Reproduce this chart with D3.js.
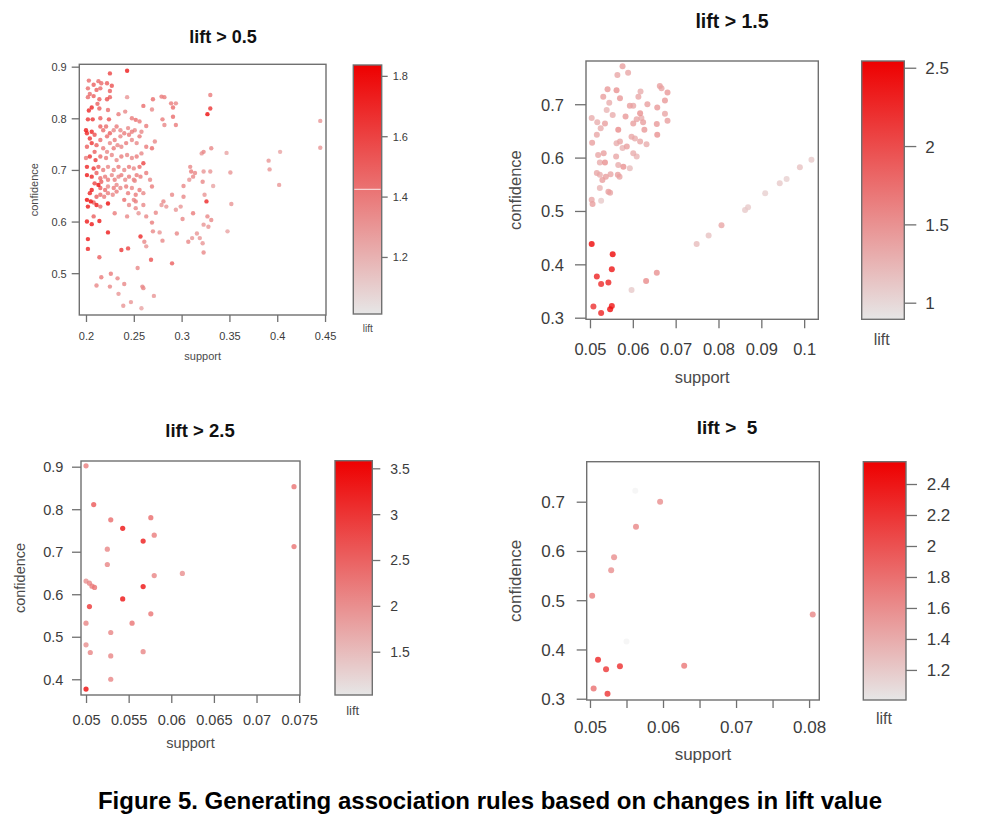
<!DOCTYPE html>
<html><head><meta charset="utf-8">
<script src="https://cdn.jsdelivr.net/npm/d3@7"></script>
<style>
body{margin:0;background:#fff}
svg{display:block}
text{font-family:"Liberation Sans",Arial,sans-serif}
</style>
</head><body>
<svg id="chart" width="982" height="828"></svg>
<script>
// ---------- data ----------
const titles = ["lift > 0.5", "lift > 1.5", "lift > 2.5", "lift >  5"];
const caption = "Figure 5. Generating association rules based on changes in lift value";
const xLabel = "support", yLabel = "confidence", legendLabel = "lift";

// [support, confidence, lift]
const p1Rules = [
[0.225,0.887,1.6],[0.243,0.892,1.75],[0.203,0.873,1.45],[0.213,0.872,1.45],[0.216,0.868,1.45],[0.208,0.865,1.5],
[0.202,0.858,1.45],[0.211,0.855,1.5],[0.215,0.858,1.45],[0.222,0.868,1.5],[0.227,0.863,1.55],[0.225,0.853,1.5],
[0.204,0.847,1.45],[0.208,0.843,1.5],[0.202,0.841,1.45],[0.214,0.837,1.5],[0.222,0.837,1.55],[0.225,0.841,1.5],
[0.243,0.841,1.3],[0.212,0.828,1.5],[0.206,0.821,1.7],[0.203,0.815,1.7],[0.214,0.819,1.5],[0.223,0.816,1.45],
[0.202,0.798,1.65],[0.207,0.798,1.65],[0.215,0.800,1.5],[0.224,0.798,1.55],[0.234,0.808,1.4],[0.241,0.813,1.35],
[0.248,0.800,1.4],[0.252,0.797,1.45],[0.256,0.794,1.4],[0.260,0.824,1.45],[0.269,0.817,1.35],[0.270,0.837,1.45],
[0.279,0.842,1.4],[0.282,0.841,1.4],[0.289,0.829,1.4],[0.291,0.821,1.45],[0.294,0.829,1.35],[0.291,0.803,1.45],
[0.294,0.787,1.4],[0.280,0.798,1.4],[0.282,0.787,1.35],[0.263,0.785,1.4],[0.330,0.845,1.4],[0.330,0.819,1.65],
[0.327,0.808,1.8],[0.445,0.795,1.3],[0.445,0.743,1.3],
[0.200,0.777,1.75],[0.201,0.771,1.7],[0.206,0.774,1.7],[0.204,0.761,1.65],[0.209,0.768,1.55],[0.215,0.784,1.5],
[0.218,0.777,1.45],[0.221,0.784,1.45],[0.225,0.771,1.5],[0.222,0.765,1.45],[0.229,0.777,1.35],[0.232,0.784,1.4],
[0.236,0.777,1.35],[0.240,0.771,1.4],[0.244,0.781,1.35],[0.248,0.774,1.4],[0.251,0.777,1.35],[0.245,0.768,1.4],
[0.236,0.765,1.35],[0.230,0.758,1.4],[0.225,0.752,1.35],[0.215,0.758,1.45],[0.211,0.748,1.5],[0.206,0.752,1.65],
[0.201,0.745,1.5],[0.209,0.735,1.5],[0.218,0.742,1.4],[0.222,0.735,1.35],[0.229,0.742,1.4],[0.233,0.748,1.35],
[0.237,0.745,1.35],[0.242,0.752,1.4],[0.248,0.758,1.35],[0.253,0.752,1.35],[0.256,0.765,1.4],[0.258,0.774,1.35],
[0.263,0.745,1.4],[0.269,0.742,1.45],[0.272,0.755,1.35],[0.258,0.732,1.35],[0.253,0.726,1.4],[0.248,0.723,1.35],
[0.243,0.729,1.35],[0.237,0.726,1.4],[0.232,0.719,1.35],[0.227,0.729,1.35],[0.221,0.723,1.4],[0.215,0.726,1.45],
[0.210,0.719,1.65],[0.204,0.726,1.65],[0.200,0.723,1.4],[0.201,0.706,1.7],[0.208,0.703,1.65],[0.213,0.706,1.5],
[0.218,0.700,1.4],[0.223,0.706,1.35],[0.229,0.700,1.35],[0.234,0.706,1.4],[0.240,0.700,1.35],[0.245,0.706,1.4],
[0.250,0.703,1.35],[0.256,0.706,1.45],[0.260,0.713,1.6],[0.263,0.694,1.4],
[0.201,0.690,1.75],[0.206,0.687,1.7],[0.211,0.694,1.5],[0.215,0.684,1.45],[0.209,0.674,1.6],[0.213,0.671,1.8],
[0.216,0.677,1.5],[0.220,0.687,1.4],[0.223,0.681,1.4],[0.227,0.690,1.35],[0.230,0.681,1.4],[0.234,0.687,1.35],
[0.237,0.690,1.4],[0.241,0.681,1.35],[0.245,0.687,1.4],[0.250,0.681,1.35],[0.253,0.690,1.4],[0.232,0.671,1.35],
[0.229,0.665,1.4],[0.223,0.668,1.35],[0.220,0.661,1.45],[0.215,0.665,1.5],[0.206,0.661,1.75],[0.204,0.655,1.7],
[0.201,0.642,1.8],[0.205,0.639,1.8],[0.211,0.648,1.5],[0.215,0.652,1.45],[0.219,0.648,1.4],[0.223,0.655,1.4],
[0.228,0.652,1.35],[0.232,0.658,1.4],[0.236,0.665,1.35],[0.223,0.635,1.8],[0.211,0.632,1.75],[0.202,0.629,1.75],
[0.208,0.637,1.5],[0.215,0.629,1.45],[0.230,0.616,1.4],[0.240,0.642,1.45],[0.244,0.655,1.4],[0.250,0.642,1.35],
[0.242,0.668,1.4],[0.248,0.665,1.35],[0.256,0.661,1.4],[0.260,0.655,1.35],[0.252,0.652,1.4],[0.251,0.679,1.35],
[0.257,0.687,1.4],[0.267,0.681,1.35],[0.269,0.668,1.4],[0.245,0.632,1.35],[0.252,0.639,1.4],[0.260,0.632,1.35],
[0.201,0.600,1.75],[0.206,0.595,1.75],[0.214,0.601,1.75],[0.208,0.610,1.5],[0.202,0.566,1.75],[0.202,0.547,1.7],
[0.223,0.579,1.75],[0.214,0.531,1.5],[0.216,0.492,1.4],[0.211,0.476,1.35],[0.226,0.499,1.4],[0.225,0.474,1.35],
[0.233,0.490,1.35],[0.240,0.479,1.35],[0.234,0.460,1.3],[0.239,0.437,1.3],[0.247,0.444,1.3],[0.258,0.432,1.25],
[0.259,0.474,1.35],[0.260,0.471,1.35],[0.254,0.510,1.35],[0.237,0.545,1.65],[0.244,0.548,1.6],[0.257,0.571,1.7],
[0.261,0.561,1.35],[0.263,0.552,1.3],[0.268,0.526,1.55],[0.271,0.456,1.3],[0.280,0.563,1.35],[0.290,0.519,1.5],
[0.263,0.610,1.35],[0.269,0.598,1.4],[0.273,0.617,1.35],[0.279,0.632,1.3],[0.281,0.639,1.35],[0.284,0.629,1.3],
[0.290,0.652,1.35],[0.294,0.623,1.3],[0.299,0.629,1.3],[0.302,0.648,1.35],[0.301,0.605,1.35],[0.295,0.577,1.35],
[0.307,0.561,1.35],[0.312,0.616,1.4],[0.316,0.577,1.3],[0.319,0.568,1.3],[0.323,0.594,1.3],[0.323,0.540,1.35],
[0.327,0.610,1.35],[0.328,0.590,1.3],[0.326,0.639,1.7],[0.331,0.603,1.35],[0.311,0.568,1.3],[0.322,0.558,1.3],
[0.348,0.581,1.25],[0.352,0.634,1.3],[0.309,0.706,1.35],[0.310,0.697,1.4],[0.312,0.687,1.35],[0.308,0.681,1.3],
[0.314,0.694,1.35],[0.302,0.669,1.35],[0.323,0.697,1.3],[0.322,0.677,1.35],[0.321,0.732,1.3],[0.323,0.735,1.35],
[0.331,0.742,1.35],[0.330,0.697,1.3],[0.333,0.669,1.25],[0.347,0.733,1.25],[0.351,0.695,1.3],[0.391,0.718,1.3],
[0.392,0.701,1.3],[0.403,0.735,1.25],[0.402,0.671,1.3],[0.324,0.652,1.3],[0.270,0.581,1.35],[0.277,0.579,1.3],
[0.243,0.610,1.35],[0.252,0.626,1.35],[0.255,0.616,1.3]
];
const p2Rules = [
[0.0576,0.771,1.4],[0.0589,0.759,1.35],[0.0564,0.755,1.35],[0.0541,0.728,1.45],[0.0562,0.726,1.5],[0.0531,0.714,1.4],
[0.0545,0.703,1.3],[0.0570,0.711,1.45],[0.0593,0.697,1.4],[0.0601,0.697,1.35],[0.0613,0.714,1.35],[0.0618,0.724,1.3],
[0.0634,0.700,1.4],[0.0663,0.734,1.4],[0.0667,0.730,1.35],[0.0681,0.722,1.45],[0.0675,0.707,1.45],[0.0657,0.694,1.45],
[0.0675,0.682,1.35],[0.0681,0.669,1.4],[0.0504,0.674,1.3],[0.0517,0.666,1.3],[0.0535,0.664,1.4],[0.0539,0.689,1.25],
[0.0553,0.680,1.3],[0.0566,0.652,1.55],[0.0583,0.677,1.45],[0.0601,0.664,1.4],[0.0609,0.672,1.35],[0.0617,0.683,1.5],
[0.0620,0.674,1.3],[0.0624,0.666,1.4],[0.0627,0.652,1.45],[0.0656,0.663,1.45],[0.0657,0.643,1.5],[0.0505,0.628,1.4],
[0.0516,0.643,1.35],[0.0525,0.655,1.3],[0.0519,0.605,1.35],[0.0523,0.591,1.3],[0.0535,0.591,1.5],[0.0532,0.608,1.4],
[0.0562,0.627,1.3],[0.0570,0.630,1.35],[0.0576,0.618,1.25],[0.0586,0.621,1.4],[0.0597,0.639,1.35],[0.0605,0.636,1.3],
[0.0617,0.630,1.35],[0.0632,0.625,1.3],[0.0601,0.608,1.3],[0.0609,0.602,1.25],[0.0561,0.602,1.35],[0.0566,0.586,1.3],
[0.0578,0.583,1.5],[0.0593,0.580,1.2],[0.0565,0.568,1.4],[0.0569,0.564,1.35],[0.0516,0.571,1.35],[0.0523,0.568,1.3],
[0.0529,0.558,1.4],[0.0537,0.564,1.4],[0.0548,0.569,1.35],[0.0543,0.536,1.4],[0.0547,0.534,1.35],[0.0523,0.543,1.25],
[0.0504,0.521,1.35],[0.0506,0.513,1.4],[0.0526,0.519,1.1],
[0.0597,0.352,1.1],[0.0631,0.369,1.55],[0.0656,0.384,1.5],[0.0749,0.438,1.2],[0.0777,0.454,1.15],[0.0807,0.473,1.35],
[0.0862,0.502,1.1],[0.0869,0.507,1.1],[0.0909,0.533,1.05],[0.0943,0.552,1.1],[0.0959,0.560,1.05],[0.0990,0.582,1.15],
[0.1017,0.596,1.1],
[0.0504,0.438,2.5],[0.0553,0.419,2.5],[0.0551,0.391,2.4],[0.0516,0.377,2.3],[0.0526,0.363,2.25],[0.0543,0.366,2.3],
[0.0508,0.321,2.2],[0.0526,0.309,2.3],[0.0551,0.322,2.4],[0.0547,0.316,2.45]
];
const p3Rules = [
[0.0500,0.902,2.2],[0.0509,0.811,2.6],[0.0529,0.775,2.4],[0.0543,0.755,3.4],[0.0576,0.780,2.4],[0.0580,0.739,2.2],
[0.0567,0.725,3.3],[0.0525,0.706,2.1],[0.0525,0.670,2.1],[0.0580,0.644,2.1],[0.0613,0.649,2.0],[0.0744,0.853,2.3],
[0.0744,0.712,2.3],[0.0500,0.631,2.0],[0.0504,0.626,2.1],[0.0507,0.619,2.2],[0.0510,0.616,2.3],[0.0567,0.618,3.4],
[0.0543,0.589,3.4],[0.0504,0.571,3.0],[0.0576,0.554,2.3],[0.0554,0.532,2.3],[0.0500,0.532,2.1],[0.0529,0.510,2.1],
[0.0500,0.481,2.0],[0.0505,0.463,2.1],[0.0567,0.465,2.1],[0.0529,0.455,2.1],[0.0529,0.400,2.1],[0.0500,0.377,3.5]
];
const p4Rules = [
[0.0596,0.700,1.6],[0.0563,0.649,1.65],[0.0533,0.587,1.6],[0.0529,0.561,1.6],[0.0503,0.509,1.7],[0.0805,0.471,1.65],
[0.0629,0.367,1.75],[0.0511,0.379,2.3],[0.0522,0.360,2.2],[0.0541,0.366,2.25],[0.0505,0.321,1.8],[0.0524,0.310,2.2],
[0.0562,0.722,1.01],[0.0550,0.416,1.01]
];

const p1XTicks = [0.2,0.25,0.3,0.35,0.4,0.45];
const p1YTicks = [0.5,0.6,0.7,0.8,0.9];
const p1LiftTicks = [1.2,1.4,1.6,1.8];
const p2XTicks = [0.05,0.06,0.07,0.08,0.09,0.1];
const p2YTicks = [0.3,0.4,0.5,0.6,0.7];
const p2LiftTicks = [1,1.5,2,2.5];
const p3XTicks = [0.05,0.055,0.06,0.065,0.07,0.075];
const p3YTicks = [0.4,0.5,0.6,0.7,0.8,0.9];
const p3LiftTicks = [1.5,2,2.5,3,3.5];
const p4XTicks = [0.05,0.055,0.06,0.065,0.07,0.075,0.08];
const p4XLabelled = [0.05,0.06,0.07,0.08];
const p4YTicks = [0.3,0.4,0.5,0.6,0.7];
const p4LiftTicks = [1.2,1.4,1.6,1.8,2,2.2,2.4];

// ---------- layout ----------
const panels = [
 {rules:p1Rules, xt:p1XTicks, xl:p1XTicks, yt:p1YTicks, lt:p1LiftTicks, title:titles[0],
  box:[79.3,64.3,326,315], xd:[0.193,0.451], yd:[0.419,0.9046], leg:[353.3,65,381.7,314], ld:[1.011,1.836],
  r:2.2, fTick:11, fLab:11, fTitle:18, fLift:10, fLeg:11,
  xTickLen:7, xTickBase:25, yTickLen:7.6, yTickRight:12.6, legTickLen:6, legLabLeft:11,
  title_xy:[223,43.3], xlab_y:360, ylab_x:38, lift_xy:[367.7,331.7], glint:189.3},
 {rules:p2Rules, xt:p2XTicks, xl:p2XTicks, yt:p2YTicks, lt:p2LiftTicks, title:titles[1],
  box:[586,61,818.3,319.3], xd:[0.04907,0.1033], yd:[0.297,0.781], leg:[861.7,61,904.3,319.3], ld:[0.894,2.543],
  r:3.0, fTick:16.5, fLab:16.5, fTitle:19.5, fLift:16, fLeg:17,
  xTickLen:9, xTickBase:36, yTickLen:11, yTickRight:22, legTickLen:12, legLabLeft:21,
  title_xy:[732,28.3], xlab_y:383, ylab_x:521, lift_xy:[881.7,345]},
 {rules:p3Rules, xt:p3XTicks, xl:p3XTicks, yt:p3YTicks, lt:p3LiftTicks, title:titles[2],
  box:[81,461,300,695], xd:[0.04941,0.0751], yd:[0.363,0.9134], leg:[335,460.7,372.3,695], ld:[1.028,3.583],
  r:2.6, fTick:14.5, fLab:14.5, fTitle:18.5, fLift:13, fLeg:14,
  xTickLen:8, xTickBase:30, yTickLen:9, yTickRight:17.7, legTickLen:8, legLabLeft:18,
  title_xy:[200,437.3], xlab_y:748, ylab_x:25, lift_xy:[352.7,715]},
 {rules:p4Rules, xt:p4XTicks, xl:p4XLabelled, yt:p4YTicks, lt:p4LiftTicks, title:titles[3],
  box:[586.7,461.7,819.3,700], xd:[0.04955,0.0814], yd:[0.2974,0.7812], leg:[863.3,461.7,906,700], ld:[1.006,2.544],
  r:3.0, fTick:17, fLab:17, fTitle:19, fLift:16, fLeg:17,
  xTickLen:8, xTickBase:33, yTickLen:10, yTickRight:21.7, legTickLen:11, legLabLeft:20.7,
  title_xy:[727,434], xlab_y:760, ylab_x:521, lift_xy:[884,724]}
];

const svg = d3.select("#chart");
const defs = svg.append("defs");
const lowCol = "#e6e6e6", highCol = "#ee0000";
const fmt = d3.format("~g");
const lineCol = "#707070", tickTextCol = "#3c3c3c", labCol = "#4a4a4a";

panels.forEach((p, i) => {
  const g = svg.append("g").attr("class", "panel" + (i + 1));
  const [bx0, by0, bx1, by1] = p.box;
  const x = d3.scaleLinear().domain(p.xd).range([bx0, bx1]);
  const y = d3.scaleLinear().domain(p.yd).range([by1, by0]);
  const col = d3.scaleLinear().domain(p.ld).range([lowCol, highCol]);

  // points (low lift first so dark points sit on top)
  const pts = p.rules.slice().sort((a, b) => a[2] - b[2]);
  g.append("g").selectAll("circle").data(pts).join("circle")
    .attr("cx", d => x(d[0])).attr("cy", d => y(d[1])).attr("r", p.r)
    .attr("fill", d => col(d[2])).attr("fill-opacity", d => d[2] < 1.05 ? 0.35 : 0.8);

  // box
  g.append("rect").attr("x", bx0).attr("y", by0).attr("width", bx1 - bx0).attr("height", by1 - by0)
    .attr("fill", "none").attr("stroke", lineCol).attr("stroke-width", 1.4);

  // x axis
  const xa = g.append("g").attr("transform", `translate(0,${by1})`)
    .call(d3.axisBottom(x).tickValues(p.xt).tickSize(p.xTickLen).tickFormat(d => p.xl.includes(d) ? fmt(d) : ""));
  xa.select(".domain").remove();
  xa.selectAll("line").attr("stroke", lineCol).attr("stroke-width", 1.3);
  xa.selectAll("text").attr("y", p.xTickBase).attr("dy", null)
    .attr("fill", tickTextCol).style("font-size", p.fTick + "px").style("font-family", '"Liberation Sans",Arial,sans-serif');

  // y axis
  const ya = g.append("g").attr("transform", `translate(${bx0},0)`)
    .call(d3.axisLeft(y).tickValues(p.yt).tickSize(p.yTickLen).tickFormat(fmt));
  ya.select(".domain").remove();
  ya.selectAll("line").attr("stroke", lineCol).attr("stroke-width", 1.3);
  ya.selectAll("text").attr("x", -p.yTickRight).attr("dy", "0.35em")
    .attr("fill", tickTextCol).style("font-size", p.fTick + "px").style("font-family", '"Liberation Sans",Arial,sans-serif');

  // axis labels
  g.append("text").attr("x", (bx0 + bx1) / 2).attr("y", p.xlab_y).attr("text-anchor", "middle")
    .attr("fill", labCol).style("font-size", p.fLab + "px").text(xLabel);
  g.append("text").attr("transform", `translate(${p.ylab_x},${(by0 + by1) / 2}) rotate(-90)`)
    .attr("text-anchor", "middle").attr("fill", labCol).style("font-size", p.fLab + "px").text(yLabel);

  // title
  g.append("text").attr("x", p.title_xy[0]).attr("y", p.title_xy[1]).attr("text-anchor", "middle")
    .style("font-weight", "bold").style("font-size", p.fTitle + "px").style("white-space", "pre")
    .attr("fill", "#111").text(p.title);

  // legend
  const [lx0, ly0, lx1, ly1] = p.leg;
  const gid = "grad" + i;
  const lg = defs.append("linearGradient").attr("id", gid).attr("x1", 0).attr("y1", 1).attr("x2", 0).attr("y2", 0);
  lg.append("stop").attr("offset", 0).attr("stop-color", lowCol);
  lg.append("stop").attr("offset", 1).attr("stop-color", highCol);
  g.append("rect").attr("x", lx0).attr("y", ly0).attr("width", lx1 - lx0).attr("height", ly1 - ly0)
    .attr("fill", `url(#${gid})`).attr("stroke", lineCol).attr("stroke-width", 1.4);
  if (p.glint) {
    g.append("line").attr("x1", lx0 + 1).attr("x2", lx1 - 1).attr("y1", p.glint).attr("y2", p.glint)
      .attr("stroke", "#fbeaea").attr("stroke-width", 1);
  }
  const ls = d3.scaleLinear().domain(p.ld).range([ly1, ly0]);
  const la = g.append("g").attr("transform", `translate(${lx1},0)`)
    .call(d3.axisRight(ls).tickValues(p.lt).tickSize(p.legTickLen).tickFormat(fmt));
  la.select(".domain").remove();
  la.selectAll("line").attr("stroke", lineCol).attr("stroke-width", 1.3);
  la.selectAll("text").attr("x", p.legLabLeft).attr("dy", "0.35em")
    .attr("fill", tickTextCol).style("font-size", p.fLeg + "px").style("font-family", '"Liberation Sans",Arial,sans-serif');
  g.append("text").attr("x", p.lift_xy[0]).attr("y", p.lift_xy[1]).attr("text-anchor", "middle")
    .attr("fill", labCol).style("font-size", p.fLift + "px").text(legendLabel);
});

// caption
svg.append("text").attr("x", 490).attr("y", 809).attr("text-anchor", "middle")
  .style("font-weight", "bold").style("font-size", "24px").attr("fill", "#000").text(caption);
</script>
</body></html>
